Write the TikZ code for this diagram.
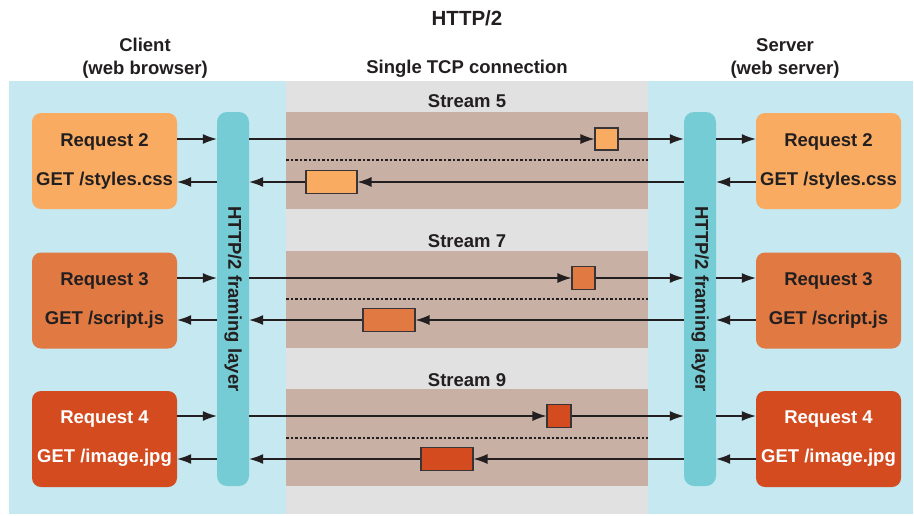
\documentclass[tikz,border=0pt]{standalone}
\usepackage{fontspec}
\setmainfont{Liberation Sans}
\usetikzlibrary{arrows.meta}
\definecolor{bgblue}{HTML}{C5E8F1}
\definecolor{tcpgray}{HTML}{E1E1E1}
\definecolor{band}{HTML}{C8B1A4}
\definecolor{barcol}{HTML}{76CCD4}
\definecolor{reqA}{HTML}{F9AC61}
\definecolor{reqB}{HTML}{E07A42}
\definecolor{reqC}{HTML}{D44B20}
\definecolor{ink}{HTML}{231F20}
\begin{document}
\begin{tikzpicture}[x=1pt,y=-1pt,
  lbl/.style={font=\bfseries\fontsize{18.5}{23}\selectfont, text=ink, align=center, inner sep=0pt},
  req/.style={rounded corners=9pt, minimum width=145pt, minimum height=96pt, inner sep=0pt, align=center, font=\bfseries\fontsize{18.5}{39}\selectfont},
  framebar/.style={fill=barcol, rounded corners=10pt, minimum width=32pt, minimum height=374pt, inner sep=0pt},
  pkt/.style={draw=ink!90, line width=1.1pt, inner sep=0pt},
  arr/.style={draw=ink, line width=1.2pt, -{Latex[length=14pt,width=10pt]}},
  sepline/.style={draw=ink, line width=1.1pt, dash pattern=on 2.5pt off 2pt}]
\useasboundingbox (0,0) rectangle (914,515);
% backgrounds
\fill[bgblue] (9,81) rectangle (913,514);
\fill[tcpgray] (286,81) rectangle (648,514);
\fill[band] (286,112) rectangle (648,209);
\fill[band] (286,251) rectangle (648,348);
\fill[band] (286,389) rectangle (648,486);
\draw[sepline] (286,160) -- (648,160);
\draw[sepline] (286,299) -- (648,299);
\draw[sepline] (286,438) -- (648,438);
% titles
\node[lbl, font=\bfseries\fontsize{20.5}{24}\selectfont] (title) at (467,18) {HTTP/2};
\node[lbl] (client) at (145,58) {Client\\(web browser)};
\node[lbl] (server) at (785,58) {Server\\(web server)};
\node[lbl] (tcp) at (467,69) {Single TCP connection};
\node[lbl] (s5) at (467,101) {Stream 5};
\node[lbl] (s7) at (467,241) {Stream 7};
\node[lbl] (s9) at (467,380) {Stream 9};
% framing bars
\node[framebar] (barL) at (233,299) {};
\node[framebar] (barR) at (700,299) {};
\node[lbl, rotate=-90] (barLt) at (barL) {HTTP/2 framing layer};
\node[lbl, rotate=-90] (barRt) at (barR) {HTTP/2 framing layer};
% request boxes
\node[req, fill=reqA, text=ink] (L1) at (104.5,161) {Request 2\\GET /styles.css};
\node[req, fill=reqB, text=ink] (L2) at (104.5,300.5) {Request 3\\GET /script.js};
\node[req, fill=reqC, text=white] (L3) at (104.5,439) {Request 4\\GET /image.jpg};
\node[req, fill=reqA, text=ink] (R1) at (828.5,161) {Request 2\\GET /styles.css};
\node[req, fill=reqB, text=ink] (R2) at (828.5,300.5) {Request 3\\GET /script.js};
\node[req, fill=reqC, text=white] (R3) at (828.5,439) {Request 4\\GET /image.jpg};
% packets
\node[pkt, fill=reqA, minimum width=23pt, minimum height=22pt] (p1f) at (606.5,139) {};
\node[pkt, fill=reqA, minimum width=51pt, minimum height=23pt] (p1r) at (331.5,182) {};
\node[pkt, fill=reqB, minimum width=23pt, minimum height=23pt] (p2f) at (583.5,278) {};
\node[pkt, fill=reqB, minimum width=52pt, minimum height=23pt] (p2r) at (389,320) {};
\node[pkt, fill=reqC, minimum width=24pt, minimum height=23pt] (p3f) at (559,416) {};
\node[pkt, fill=reqC, minimum width=52pt, minimum height=23pt] (p3r) at (447,459) {};
% arrow levels
\coordinate (f1) at (0,139); \coordinate (r1) at (0,182);
\coordinate (f2) at (0,278); \coordinate (r2) at (0,320);
\coordinate (f3) at (0,416); \coordinate (r3) at (0,459);
\foreach \i in {1,2,3}{
  \draw[arr] (L\i.east |- f\i) -- (barL.west |- f\i);
  \draw[arr] (barL.east |- f\i) -- (p\i f.west);
  \draw[arr] (p\i f.east) -- (barR.west |- f\i);
  \draw[arr] (barR.east |- f\i) -- (R\i.west |- f\i);
  \draw[arr] (R\i.west |- r\i) -- (barR.east |- r\i);
  \draw[arr] (barR.west |- r\i) -- (p\i r.east);
  \draw[arr] (p\i r.west) -- (barL.east |- r\i);
  \draw[arr] (barL.west |- r\i) -- (L\i.east |- r\i);
}
\end{tikzpicture}
\end{document}
